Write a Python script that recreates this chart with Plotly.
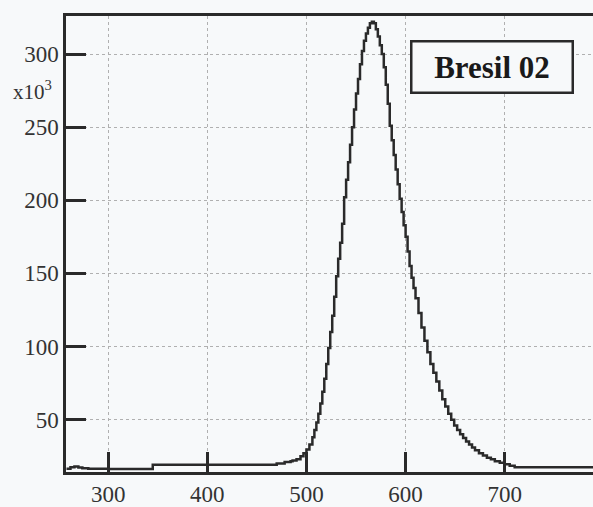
import plotly.graph_objects as go

# bin left edges (nm) and counts (x10^3)
bin_edges = [258, 262, 266, 270, 274, 280, 300, 345, 470, 478, 484, 486, 490, 494, 497,
             500, 503, 506, 508, 510, 512, 514, 516, 518, 520, 522, 524, 526, 528, 530,
             532, 534, 536, 538, 540, 542, 544, 546, 548, 550, 552, 554, 556, 558, 560,
             562, 564, 566, 568, 570, 572, 574, 576, 578, 580, 582, 584, 586, 588, 590,
             592, 594, 596, 598, 600, 602, 604, 606, 608, 610, 613, 616, 619, 622, 625,
             628, 631, 634, 637, 640, 643, 646, 649, 652, 655, 658, 661, 664, 667, 670,
             674, 678, 682, 686, 690, 695, 700, 705, 710, 790]
counts = [16.5, 17.5, 18.0, 17.2, 16.8, 16.5, 16.3, 19.2, 20.0, 21.0, 21.5, 22.0, 23.0, 25.0, 27.0,
          29.5, 33.0, 38.0, 43.0, 48.0, 54.0, 61.0, 69.0, 78.0, 88.0, 99.0, 110.0, 121.0, 134.0, 148.0,
          160.0, 171.0, 184.0, 202.0, 214.0, 226.0, 238.0, 250.0, 262.0, 273.0, 283.0, 293.0, 302.0, 309.0, 314.0,
          318.0, 321.0, 322.0, 321.0, 317.0, 312.0, 306.0, 300.0, 291.0, 279.0, 266.0, 251.0, 241.0, 231.0, 221.0,
          211.0, 201.0, 192.0, 183.0, 175.0, 165.0, 155.0, 147.0, 140.0, 133.0, 123.0, 113.0, 104.0, 96.0, 88.0,
          82.0, 76.0, 70.0, 64.0, 59.0, 54.0, 50.0, 46.0, 43.0, 40.0, 37.5, 35.0, 33.0, 31.0, 29.0,
          27.0, 25.5, 24.0, 23.0, 21.5, 20.5, 19.5, 18.5, 17.5, 17.0]

x_ticks = [300, 400, 500, 600, 700]
y_ticks = [50, 100, 150, 200, 250, 300]
label = "Bresil 02"

bg = "#f7f9fa"
ink = "#2a2a2a"
serif = "Liberation Serif, DejaVu Serif, serif"
grid = "#b0b0b0"

fig = go.Figure()
fig.add_trace(go.Scatter(x=bin_edges, y=counts, mode="lines", line=dict(shape="hv", color=ink, width=2.5),
                         showlegend=False, hoverinfo="skip"))

fig.update_xaxes(range=[257.5, 789], tickvals=x_ticks, ticks="inside", ticklen=20, tickwidth=2.5,
                 tickcolor=ink, showline=True, linecolor=ink, linewidth=2.5, mirror=True,
                 showgrid=True, gridcolor=grid, gridwidth=1, griddash="dot", zeroline=False,
                 tickfont=dict(family=serif, size=23, color="#333"))
fig.update_yaxes(range=[14.2, 326], tickvals=y_ticks, ticks="inside", ticklen=20, tickwidth=2.5,
                 tickcolor=ink, showline=True, linecolor=ink, linewidth=2.5,
                 showgrid=True, gridcolor=grid, gridwidth=1, griddash="dot", zeroline=False,
                 tickfont=dict(family=serif, size=23, color="#333"))

fig.add_annotation(text="<b>" + label + "</b>", xref="paper", yref="paper", x=0.808, y=0.888,
                   xanchor="center", yanchor="middle", showarrow=False,
                   font=dict(family=serif, size=31, color="#1a1a1a"),
                   bordercolor=ink, borderwidth=2.5, width=157, height=47, bgcolor=bg)
fig.add_annotation(text="x10<sup>3</sup>", xref="paper", yref="paper", x=-0.023, y=0.836,
                   xanchor="right", yanchor="middle", showarrow=False,
                   font=dict(family=serif, size=21, color="#333"))

fig.update_layout(width=593, height=507, margin=dict(l=66, r=0, t=16, b=28),
                  paper_bgcolor=bg, plot_bgcolor=bg)

fig.write_html("out.html", config={"displayModeBar": False},
               post_script="document.body.style.margin='0';document.body.style.overflow='hidden';")
